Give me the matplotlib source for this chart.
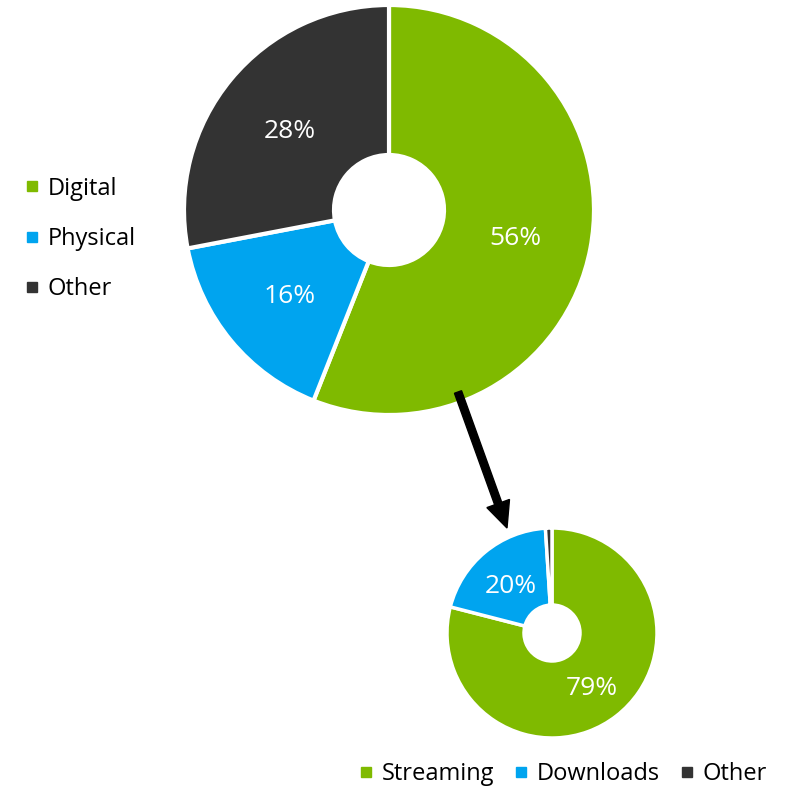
import matplotlib
matplotlib.use("Agg")
import matplotlib.pyplot as plt
from matplotlib.patches import FancyArrow
from matplotlib.lines import Line2D

plt.rcParams['font.family'] = ['Open Sans', 'DejaVu Sans']

# Revenue split by format
main_labels = ["Digital", "Physical", "Other"]
main_values = [56, 16, 28]

# Breakdown of the digital share
digital_labels = ["Streaming", "Downloads", "Other"]
digital_values = [79, 20, 1]

colors = ["#7FBA00", "#00A4EF", "#333333"]

W, H = 795, 788
fig = plt.figure(figsize=(W / 100, H / 100), dpi=100)
ax = fig.add_axes([0, 0, 1, 1])


def pct_label(threshold):
    def fmt(p):
        return f"{p:.0f}%" if p >= threshold else ""
    return fmt


# Main donut
wedges_main, _, texts_main = ax.pie(
    main_values, colors=colors, startangle=90, counterclock=False,
    center=(389, H - 210), radius=205,
    autopct=pct_label(2), pctdistance=0.63,
    wedgeprops=dict(width=150, edgecolor="white", linewidth=3),
    textprops=dict(color="white", fontsize=19),
)

# Digital breakdown donut
wedges_dig, _, texts_dig = ax.pie(
    digital_values, colors=colors, startangle=90, counterclock=False,
    center=(552, H - 633), radius=105,
    autopct=pct_label(2), pctdistance=0.62,
    wedgeprops=dict(width=77, edgecolor="white", linewidth=2.5),
    textprops=dict(color="white", fontsize=19),
)

# Centre the percentage digits on their baseline rather than the full text box
for t in list(texts_main) + list(texts_dig):
    x, y = t.get_position()
    t.set_position((x, y - 4))

# Arrow linking the digital slice to its breakdown
ax.add_patch(FancyArrow(458, H - 392, 507 - 458, -(528 - 392), width=7.5,
                        head_width=24, head_length=26, length_includes_head=True,
                        color="black", zorder=5))

ax.set_xlim(0, W)
ax.set_ylim(0, H)
ax.set_aspect("equal")
ax.axis("off")


def handles(labels):
    return [Line2D([], [], marker="s", linestyle="none", markersize=6.5,
                   markerfacecolor=c, markeredgecolor=c, label=l)
            for l, c in zip(labels, colors)]


leg1 = ax.legend(handles=handles(main_labels), loc="center left",
                 bbox_to_anchor=(17 / W, 1 - 239 / H), frameon=False,
                 fontsize=17, handlelength=0.5, handletextpad=0.4,
                 labelspacing=1.12, borderaxespad=0)
ax.add_artist(leg1)
ax.legend(handles=handles(digital_labels), loc="center right",
          bbox_to_anchor=(776 / W, 1 - 774 / H), frameon=False, ncol=3,
          fontsize=17, handlelength=0.5, handletextpad=0.4,
          columnspacing=0.9, borderaxespad=0)

fig.savefig("out.png", dpi=100)
